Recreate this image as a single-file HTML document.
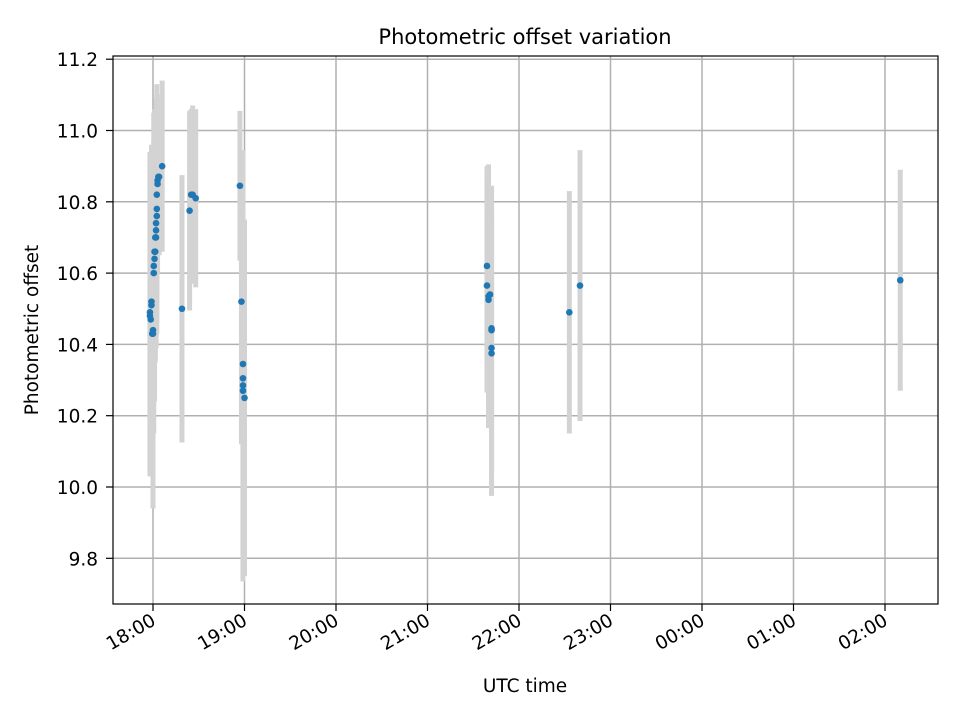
<!DOCTYPE html>
<html><head><meta charset="utf-8">
<style>
body{margin:0;background:#fff;font-family:"Liberation Sans","DejaVu Sans",sans-serif;}
svg text{font-family:"DejaVu Sans","Liberation Sans",sans-serif;fill:#000;}
</style></head>
<body>
<svg id="chart" width="960" height="720" viewBox="0 0 960 720" xmlns="http://www.w3.org/2000/svg">
<rect width="960" height="720" fill="#fff"/>
<g id="grid"></g>
<g id="errs"></g>
<g id="pts"></g>
<rect x="113" y="56" width="825" height="548" fill="none" stroke="#000" stroke-width="1.2"/>
<g id="axes"></g>
<text x="525" y="44" style="font-size:21px" text-anchor="middle">Photometric offset variation</text>
<text x="525" y="692" style="font-size:18.5px" text-anchor="middle">UTC time</text>
<text x="38" y="330" style="font-size:18.5px" text-anchor="middle" transform="rotate(-90 38 330)">Photometric offset</text>
</svg>
<script>
// minutes after 18:00 UTC
const times=[-2,-2,-1.5,-1,-1,-0.5,0,0,0.5,0.5,1,1,1.5,1.5,2,2,2,2.5,2.5,2.5,3,3,3.5,4,6,
19,24,25,26,28,
57,58,59,59,59,59,60,
219,219,220,220,221,222,222,222,222,
273,280,490];
const offsets=[10.49,10.48,10.47,10.52,10.51,10.43,10.44,10.43,10.62,10.60,10.66,10.64,10.66,10.70,10.70,10.72,10.74,10.76,10.78,10.82,10.85,10.86,10.87,10.87,10.90,
10.50,10.775,10.82,10.82,10.81,
10.845,10.52,10.345,10.305,10.285,10.27,10.25,
10.62,10.565,10.535,10.525,10.54,10.445,10.44,10.39,10.375,
10.49,10.565,10.58];
const errors=[0.45,0.45,0.44,0.42,0.45,0.4,0.5,0.42,0.35,0.45,0.4,0.4,0.3,0.35,0.3,0.33,0.35,0.3,0.35,0.28,0.25,0.2,0.2,0.22,0.24,
0.375,0.28,0.24,0.25,0.25,
0.21,0.4,0.6,0.5,0.55,0.5,0.5,
0.28,0.3,0.37,0.35,0.3,0.4,0.4,0.35,0.4,
0.34,0.38,0.31];
const yTicks=[9.8,10.0,10.2,10.4,10.6,10.8,11.0,11.2];
const xTickLabels=["18:00","19:00","20:00","21:00","22:00","23:00","00:00","01:00","02:00"];
const xTickHours=[0,1,2,3,4,5,6,7,8];

const X=m=>153+m/60*91.5;
const Y=v=>487-(v-10)*356.5;
const NS="http://www.w3.org/2000/svg";
function mk(p,t,a){const e=document.createElementNS(NS,t);for(const k in a)e.setAttribute(k,a[k]);p.appendChild(e);return e;}
const grid=document.getElementById('grid'),axes=document.getElementById('axes');
yTicks.forEach((v,i)=>{
 const y=Y(v);
 const g=mk(grid,'line',{x1:113,x2:938,y1:y,y2:y,stroke:'#b0b0b0','stroke-width':1.5});
 
 
 mk(axes,'line',{x1:106,x2:113,y1:y,y2:y,stroke:'#000','stroke-width':1.2});
 const t=mk(axes,'text',{x:98,y:y+7,style:'font-size:18.5px','text-anchor':'end'});
 t.textContent=v.toFixed(1);
 
 
});
xTickHours.forEach((h,i)=>{
 const x=X(h*60);
 const g=mk(grid,'line',{x1:x,x2:x,y1:56,y2:604,stroke:'#b0b0b0','stroke-width':1.5});
 
 
 mk(axes,'line',{x1:x,x2:x,y1:604,y2:611,stroke:'#000','stroke-width':1.2});
 const t=mk(axes,'text',{x:x+4,y:624,style:'font-size:18.5px','text-anchor':'end',transform:`rotate(-30 ${x+4} 624)`});
 t.textContent=xTickLabels[i];
 
 
});
const errs=document.getElementById('errs'),pts=document.getElementById('pts');
times.forEach((m,i)=>{
 const x=X(m);
 const l=mk(errs,'line',{x1:x,x2:x,y1:Y(offsets[i]+errors[i]),y2:Y(offsets[i]-errors[i]),stroke:'#d3d3d3','stroke-width':5});
 
 
 const c=mk(pts,'circle',{cx:x,cy:Y(offsets[i]),r:3.3,fill:'#1f77b4'});
 
 
});
</script>
</body></html>
